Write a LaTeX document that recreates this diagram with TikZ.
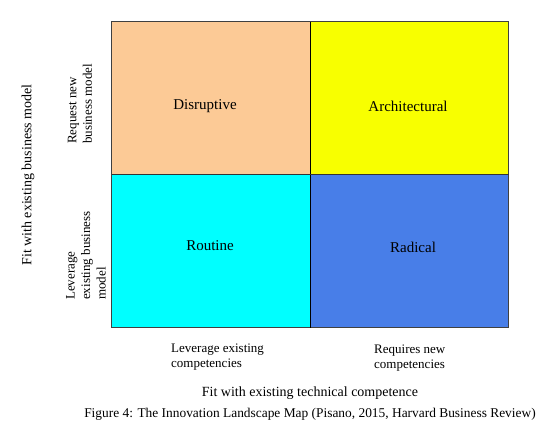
\documentclass[tikz,border=0pt]{standalone}
\usepackage{fontspec}
\setmainfont{Liberation Serif}
\definecolor{peach}{RGB}{252,202,150}
\definecolor{lemon}{RGB}{248,255,0}
\definecolor{aqua}{RGB}{0,255,255}
\definecolor{royal}{RGB}{72,126,232}
\begin{document}
\begin{tikzpicture}[x=1pt,y=-1pt]

        \useasboundingbox (0,0) rectangle (549,433);

        % quadrants
        \fill[peach] (111.5,22) rectangle (310,174.5);
        \fill[lemon] (310,22) rectangle (508.5,174.5);
        \fill[aqua]  (111.5,174.5) rectangle (310,327.5);
        \fill[royal] (310,174.5) rectangle (508.5,327.5);
        \draw[black!75,line width=1pt] (111.5,22) rectangle (508.5,327.5);
        \draw[black,line width=1pt] (310,22) -- (310,327.5);
        \draw[black!80,line width=1pt] (111.5,174.5) -- (508.5,174.5);

        \begin{scope}[every node/.style={font=\fontsize{15}{18}\selectfont}]
          \node (disruptive)    at (205,106) {Disruptive};
          \node (architectural) at (408,106) {Architectural};
          \node (routine)       at (210,246) {Routine};
          \node (radical)       at (413,247) {Radical};
        \end{scope}

        \begin{scope}[every node/.style={font=\fontsize{13}{15.5}\selectfont,align=left,inner sep=0pt}]
          \node[rotate=90,anchor=west] (request)  at (80,144) {Request new\\business model};
          \node[rotate=90,anchor=west] (leverage) at (86,300) {Leverage\\existing business\\model};
          \node[anchor=west] (existing) at (171,357) {Leverage existing\\competencies};
          \node[anchor=west] (requires) at (374,358) {Requires new\\competencies};
        \end{scope}

        \begin{scope}[every node/.style={font=\fontsize{14}{17}\selectfont}]
          \node[rotate=90] (business)  at (28,175) {Fit with existing business model};
          \node            (technical) at (310,393) {Fit with existing technical competence};
        \end{scope}

        \node[font=\fontsize{13.4}{16}\selectfont] (caption) at (310,414)
          {Figure 4: The Innovation Landscape Map (Pisano, 2015, Harvard Business Review)};

      \end{tikzpicture}
\end{document}
